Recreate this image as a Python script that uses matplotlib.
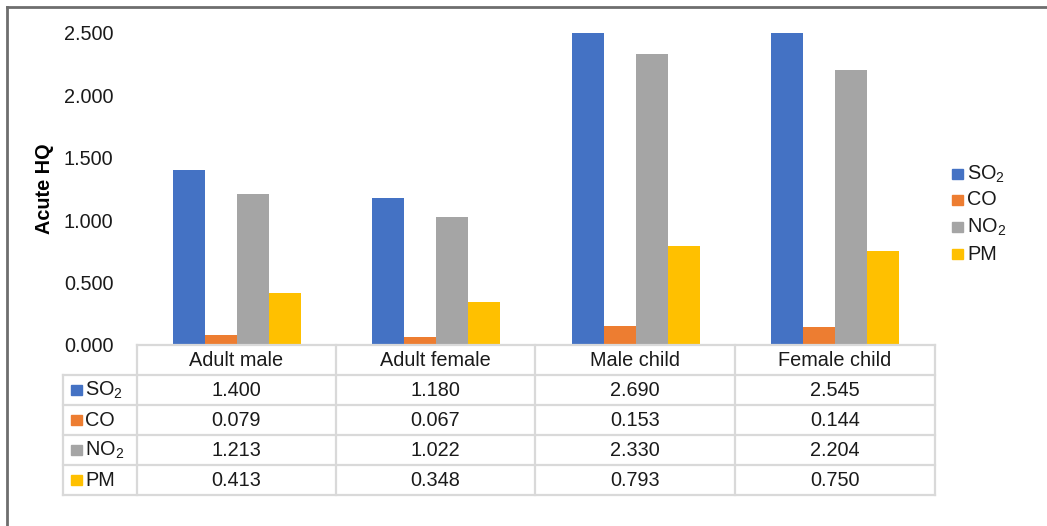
import matplotlib
matplotlib.use("Agg")
import matplotlib.pyplot as plt
from matplotlib.patches import Rectangle
from matplotlib.lines import Line2D
import numpy as np

plt.rcParams["font.family"] = ["Liberation Sans", "DejaVu Sans"]
plt.rcParams["mathtext.fontset"] = "custom"
plt.rcParams["mathtext.rm"] = "Liberation Sans"
plt.rcParams["mathtext.it"] = "Liberation Sans:italic"
plt.rcParams["mathtext.bf"] = "Liberation Sans:bold"

categories = ["Adult male", "Adult female", "Male child", "Female child"]
series_names = [r"SO$_\mathregular{2}$", "CO", r"NO$_\mathregular{2}$", "PM"]
so2 = [1.400, 1.180, 2.690, 2.545]
co = [0.079, 0.067, 0.153, 0.144]
no2 = [1.213, 1.022, 2.330, 2.204]
pm = [0.413, 0.348, 0.793, 0.750]
yticks = [0.0, 0.5, 1.0, 1.5, 2.0, 2.5]

series = [so2, co, no2, pm]
colors = ["#4472C4", "#ED7D31", "#A5A5A5", "#FFC000"]

FS = 14.3
TXT = "#1A1A1A"

W, H = 1047, 526
fig = plt.figure(figsize=(W / 100, H / 100), dpi=100)


def fx(px):
    return px / W


def fy(py):
    return 1 - py / H


ax_left, ax_right, ax_top, ax_bot = 137, 935, 33, 345
ax = fig.add_axes([fx(ax_left), fy(ax_bot), fx(ax_right - ax_left), fy(ax_top) - fy(ax_bot)])

x = np.arange(len(categories))
bw = 0.16
for i, (vals, c) in enumerate(zip(series, colors)):
    ax.bar(x + (i - 1.5) * bw, vals, width=bw, color=c, zorder=2)

ax.set_xlim(-0.5, len(categories) - 0.5)
ax.set_ylim(0, 2.5)
ax.set_yticks(yticks)
ax.set_yticklabels([f"{t:.3f}" for t in yticks], fontsize=FS, color=TXT)
ax.tick_params(axis="y", length=0, pad=17)
ax.set_xticks([])
for s in ax.spines.values():
    s.set_visible(False)

fig.text(fx(44), fy(189), "Acute HQ", rotation=90, fontsize=FS, fontweight="bold",
         ha="center", va="center", color="#000000")

# Data table beneath the plot
grid_c = "#D9D9D9"
col_edges = [137, 336, 535, 735, 935]
row_edges = [345, 375, 405, 435, 465, 495]
label_left = 63

for xe in col_edges:
    fig.add_artist(Line2D([fx(xe), fx(xe)], [fy(row_edges[0]), fy(row_edges[-1])],
                          color=grid_c, lw=1.6))
fig.add_artist(Line2D([fx(label_left), fx(label_left)], [fy(row_edges[1]), fy(row_edges[-1])],
                      color=grid_c, lw=1.6))
fig.add_artist(Line2D([fx(col_edges[0]), fx(col_edges[-1])], [fy(row_edges[0]), fy(row_edges[0])],
                      color=grid_c, lw=1.6))
for ye in row_edges[1:]:
    fig.add_artist(Line2D([fx(label_left), fx(col_edges[-1])], [fy(ye), fy(ye)],
                          color=grid_c, lw=1.6))

for j, cat in enumerate(categories):
    cx = (col_edges[j] + col_edges[j + 1]) / 2
    fig.text(fx(cx), fy((row_edges[0] + row_edges[1]) / 2), cat, ha="center", va="center",
             fontsize=FS, color=TXT)

for i, (name, vals, c) in enumerate(zip(series_names, series, colors)):
    cy = (row_edges[i + 1] + row_edges[i + 2]) / 2
    fig.add_artist(Rectangle((fx(71), fy(cy + 5)), fx(11), fy(cy - 5) - fy(cy + 5),
                             color=c, transform=fig.transFigure))
    fig.text(fx(85), fy(cy), name, ha="left", va="center", fontsize=FS, color=TXT)
    for j, v in enumerate(vals):
        cx = (col_edges[j] + col_edges[j + 1]) / 2
        fig.text(fx(cx), fy(cy), f"{v:.3f}", ha="center", va="center",
                 fontsize=FS, color=TXT)

# Legend on the right
leg_y = [174, 200, 227, 254]
for name, c, ly in zip(series_names, colors, leg_y):
    fig.add_artist(Rectangle((fx(952), fy(ly + 5)), fx(11), fy(ly - 5) - fy(ly + 5),
                             color=c, transform=fig.transFigure))
    fig.text(fx(967), fy(ly), name, ha="left", va="center", fontsize=FS, color=TXT)

# Outer frame edges
frame_c = "#6E6E6E"
fig.add_artist(Line2D([fx(7), fx(7)], [fy(7), 0], color=frame_c, lw=2))
fig.add_artist(Line2D([fx(7), 1], [fy(7), fy(7)], color=frame_c, lw=2))

fig.savefig("out.png", dpi=100)
